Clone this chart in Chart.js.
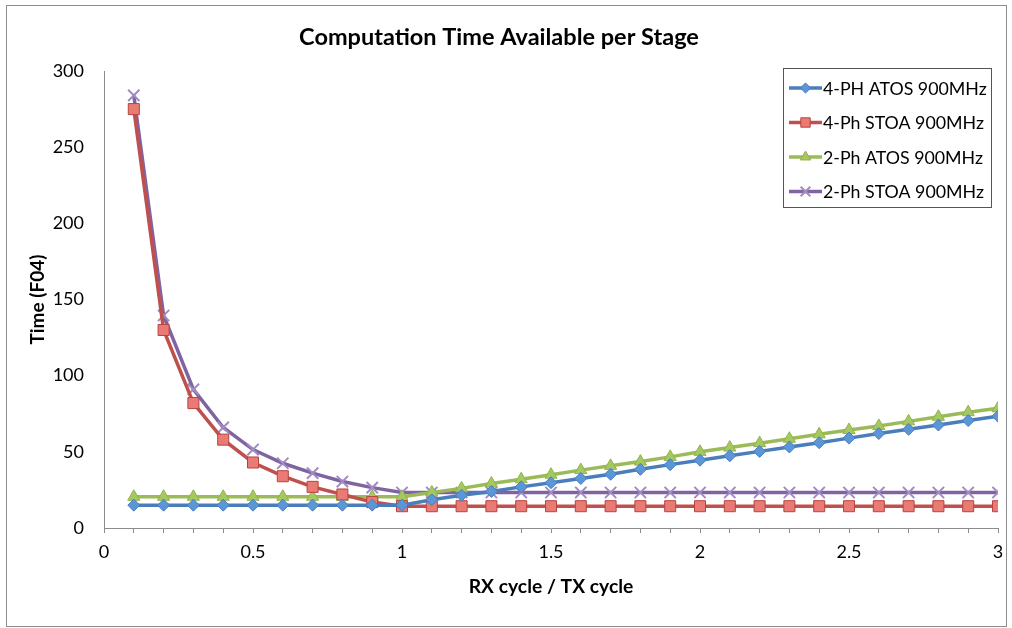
<!DOCTYPE html>
<html lang="en">

<head>
    <meta charset="UTF-8">
    <title>Computation Time Available per Stage</title>
    <script src="https://cdn.jsdelivr.net/npm/chart.js"></script>
    <style>
        body { margin: 0; background: #fff; }
        #wrap { width: 1012px; height: 628px; }
    </style>
</head>

<body>
    <div id="wrap"><canvas id="myChart" width="1012" height="628"></canvas></div>

    <script>
        // data
        const rxTx = [0.1, 0.2, 0.3, 0.4, 0.5, 0.6, 0.7, 0.8, 0.9, 1.0,
                      1.1, 1.2, 1.3, 1.4, 1.5, 1.6, 1.7, 1.8, 1.9, 2.0,
                      2.1, 2.2, 2.3, 2.4, 2.5, 2.6, 2.7, 2.8, 2.9, 3.0];
        const atos4Ph = [15, 15, 15, 15, 15, 15, 15, 15, 15, 15,
                         18.5, 21.5, 24, 27, 29.7, 32.5, 35.3, 38.5, 41.6, 44.5,
                         47.4, 50.3, 53.2, 56, 59, 62, 64.8, 67.6, 70.5, 73.4];
        const stoa4Ph = [275, 130, 82, 58, 43, 34, 27, 22, 17, 14.3,
                         14.3, 14.3, 14.3, 14.3, 14.3, 14.3, 14.3, 14.3, 14.3, 14.3,
                         14.3, 14.3, 14.3, 14.3, 14.3, 14.3, 14.3, 14.3, 14.3, 14.3];
        const atos2Ph = [20.5, 20.5, 20.5, 20.5, 20.5, 20.5, 20.5, 20.5, 20.5, 20.5,
                         23.3, 26, 29.2, 32, 35, 38, 40.8, 43.6, 46.7, 50,
                         52.8, 55.7, 58.6, 61.5, 64.3, 67, 70, 73, 76, 78.6];
        const stoa2Ph = [284, 139.5, 91, 66, 51.5, 42.5, 36, 30.5, 26.5, 23.3,
                         23.3, 23.3, 23.3, 23.3, 23.3, 23.3, 23.3, 23.3, 23.3, 23.3,
                         23.3, 23.3, 23.3, 23.3, 23.3, 23.3, 23.3, 23.3, 23.3, 23.3];
        const seriesNames = ['4-PH ATOS 900MHz', '4-Ph STOA 900MHz', '2-Ph ATOS 900MHz', '2-Ph STOA 900MHz'];
        const yTicks = [0, 50, 100, 150, 200, 250, 300];

        const FONT = 'Lato, Calibri, "Open Sans", sans-serif';

        function pts(values) {
            return rxTx.map((x, i) => ({ x: x, y: values[i] }));
        }

        const styles = [
            { line: '#4a7ebb', fill: '#5b96d8', stroke: '#4a7ebb', shape: 'rectRot', r: 6 },
            { line: '#c0504d', fill: '#ea7a74', stroke: '#b9433f', shape: 'rect', r: 7.8 },
            { line: '#9bbb59', fill: '#a5c95e', stroke: '#93b24f', shape: 'triangle', r: 7 },
            { line: '#8064a2', fill: '#a08bc2', stroke: '#a08bc2', shape: 'crossRot', r: 8 }
        ];
        const allValues = [atos4Ph, stoa4Ph, atos2Ph, stoa2Ph];

        const datasets = allValues.map((vals, i) => ({
            label: seriesNames[i],
            data: pts(vals),
            borderColor: styles[i].line,
            borderWidth: 3.5,
            pointStyle: styles[i].shape,
            pointRadius: styles[i].r,
            pointBackgroundColor: styles[i].fill,
            pointBorderColor: styles[i].stroke,
            pointBorderWidth: styles[i].shape === 'crossRot' ? 2 : 1,
            tension: 0
        }));

        const framePlugin = {
            id: 'frame',
            beforeDraw(chart) {
                const ctx = chart.ctx;
                ctx.save();
                ctx.fillStyle = '#fff';
                ctx.fillRect(0, 0, chart.width, chart.height);
                ctx.strokeStyle = '#8c8c8c';
                ctx.lineWidth = 1;
                ctx.strokeRect(6.5, 5.5, 1000, 621);
                ctx.restore();
            },
            afterDraw(chart) {
                // legend box drawn over the plot, like the original
                const ctx = chart.ctx;
                ctx.save();
                ctx.fillStyle = '#fff';
                ctx.fillRect(783.5, 68.5, 208, 139);
                ctx.strokeStyle = '#555';
                ctx.lineWidth = 1;
                ctx.strokeRect(783.5, 68.5, 208, 139);
                seriesNames.forEach((name, i) => {
                    const y = 88 + i * 34.5;
                    const s = styles[i];
                    ctx.strokeStyle = s.line;
                    ctx.lineWidth = 3.5;
                    ctx.beginPath();
                    ctx.moveTo(789, y);
                    ctx.lineTo(822, y);
                    ctx.stroke();
                    ctx.fillStyle = s.fill;
                    ctx.strokeStyle = s.stroke;
                    ctx.lineWidth = s.shape === 'crossRot' ? 2 : 1;
                    Chart.helpers.drawPoint(ctx, { pointStyle: s.shape, radius: s.r * 0.85, rotation: 0, borderWidth: ctx.lineWidth }, 805.5, y);
                    ctx.fillStyle = '#000';
                    ctx.font = '17.8px ' + FONT;
                    ctx.textBaseline = 'middle';
                    ctx.textAlign = 'left';
                    ctx.fillText(name, 823, y + 1);
                });
                ctx.restore();
            }
        };

        const ctx = document.getElementById('myChart').getContext('2d');
        new Chart(ctx, {
            type: 'line',
            data: { datasets: datasets },
            plugins: [framePlugin],
            options: {
                responsive: false,
                animation: false,
                layout: { padding: { left: 0, right: 14, top: 0, bottom: 0 } },
                plugins: {
                    legend: { display: false },
                    tooltip: { enabled: false },
                    title: {
                        display: true,
                        text: 'Computation Time Available per Stage',
                        color: '#000',
                        font: { family: FONT, size: 23.5, weight: 'bold' },
                        padding: { top: 23, bottom: 19.8 }
                    }
                },
                scales: {
                    x: {
                        type: 'linear',
                        min: 0,
                        max: 3,
                        afterFit(scale) { scale.height = 100; },
                        border: { color: '#8c8c8c', width: 1 },
                        grid: { drawOnChartArea: false, drawTicks: true, tickLength: 5, color: '#8c8c8c' },
                        ticks: {
                            stepSize: 0.1,
                            maxTicksLimit: 40,
                            autoSkip: false,
                            maxRotation: 0,
                            padding: 8,
                            color: '#000',
                            font: { family: FONT, size: 18 },
                            callback: function (value) {
                                const v = Math.round(value * 10);
                                return v % 5 === 0 ? String(v / 10) : '';
                            }
                        },
                        title: {
                            display: true,
                            text: 'RX cycle / TX cycle',
                            color: '#000',
                            font: { family: FONT, size: 19.3, weight: 'bold' },
                            padding: { top: 0, bottom: 29.5 }
                        }
                    },
                    y: {
                        min: yTicks[0],
                        max: yTicks[yTicks.length - 1],
                        afterFit(scale) { scale.width = 104; },
                        border: { color: '#8c8c8c', width: 1 },
                        grid: { drawOnChartArea: false, drawTicks: false },
                        ticks: {
                            stepSize: 50,
                            padding: 20,
                            color: '#000',
                            font: { family: FONT, size: 18 }
                        },
                        title: {
                            display: true,
                            text: 'Time (F04)',
                            color: '#000',
                            font: { family: FONT, size: 19, weight: 'bold' },
                            padding: { top: 26.6, bottom: 0 }
                        }
                    }
                }
            }
        });
    </script>
</body>

</html>
